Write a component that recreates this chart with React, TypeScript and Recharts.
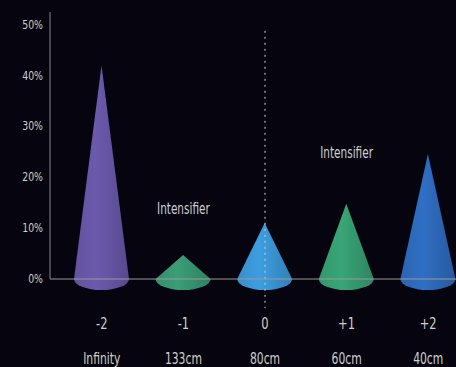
import React from "react";
import { BarChart, Bar, XAxis, YAxis, ReferenceLine, ReferenceDot } from "recharts";

const steps = ["-2", "-1", "0", "+1", "+2"];
const distances = ["Infinity", "133cm", "80cm", "60cm", "40cm"];
const shares = [42, 4.7, 11, 14.8, 24.6];
const coneColors = ["#6c5aae", "#3a9e78", "#3d9ee0", "#38a676", "#2f6fc4"];
const yTicks = [0, 10, 20, 30, 40, 50];
const notes = [
  { step: "-1", at: 13.8, text: "Intensifier" },
  { step: "+1", at: 24.8, text: "Intensifier" },
];

const data = steps.map((s, i) => ({ step: s, dist: distances[i], share: shares[i] }));

const FONT = "'DejaVu Sans', sans-serif";
const TEXT = "#cfcfcf";

// narrow text, the reference uses a condensed face
const Narrow = ({ x, y, size, anchor = "middle", squeeze = 0.72, children }: any) => (
  <text
    transform={`translate(${x},${y}) scale(${squeeze},1)`}
    textAnchor={anchor}
    fill={TEXT}
    fontSize={size}
    fontFamily={FONT}
  >
    {children}
  </text>
);

const Cone = (props: any) => {
  const { x, y, width, height, index } = props;
  const cx = x + width / 2;
  const base = y + height;
  const ry = 11;
  const d = `M${cx},${y} L${x},${base} A${width / 2},${ry} 0 0 0 ${x + width},${base} Z`;
  return <path d={d} fill={`url(#cone${index})`} />;
};

const StepTick = (props: any) => {
  const { x, payload, index } = props;
  return (
    <g>
      <Narrow x={x} y={329} size={16}>{payload.value}</Narrow>
      <Narrow x={x} y={364} size={15}>{distances[index]}</Narrow>
    </g>
  );
};

const ShareTick = (props: any) => {
  const { x, y, payload } = props;
  return (
    <Narrow x={x + 5} y={y + 4} size={13} anchor="end">
      {payload.value}%
    </Narrow>
  );
};

const NoteLabel = (props: any) => {
  const { viewBox, value } = props;
  return (
    <Narrow x={viewBox.x} y={viewBox.y + 5} size={15} squeeze={0.7}>
      {value}
    </Narrow>
  );
};

export default function App() {
  return (
    <div style={{ position: "fixed", left: 0, top: 0, width: 456, height: 367, overflow: "hidden", background: "#06050f" }}>
      <BarChart width={469} height={367} data={data} margin={{ top: 12, right: 0, left: 0, bottom: 0 }}>
        <defs>
          {coneColors.map((c, i) => (
            <linearGradient key={i} id={`cone${i}`} x1="0" y1="0" x2="1" y2="0">
              <stop offset="0%" stopColor={c} stopOpacity={0.9} />
              <stop offset="40%" stopColor={c} stopOpacity={1} />
              <stop offset="100%" stopColor={c} stopOpacity={0.8} />
            </linearGradient>
          ))}
        </defs>
        <XAxis
          dataKey="step"
          height={88}
          padding={{ left: 11, right: 0 }}
          axisLine={{ stroke: "#9a9a9a" }}
          tickLine={false}
          tick={<StepTick />}
          interval={0}
        />
        <YAxis
          width={50}
          domain={[0, 52.5]}
          ticks={yTicks}
          axisLine={{ stroke: "#8a8a8a" }}
          tickLine={false}
          tickMargin={6}
          tick={<ShareTick />}
        />
        <ReferenceLine
          segment={[{ x: "0", y: 48.8 }, { x: "0", y: -5.7 }]}
          stroke="#d0d0d0"
          strokeDasharray="2 4"
          ifOverflow="visible"
        />
        <Bar dataKey="share" barSize={55} shape={<Cone />} isAnimationActive={false} />
        {notes.map((n) => (
          <ReferenceDot
            key={n.step}
            x={n.step}
            y={n.at}
            r={0}
            ifOverflow="visible"
            label={<NoteLabel value={n.text} />}
          />
        ))}
      </BarChart>
    </div>
  );
}
